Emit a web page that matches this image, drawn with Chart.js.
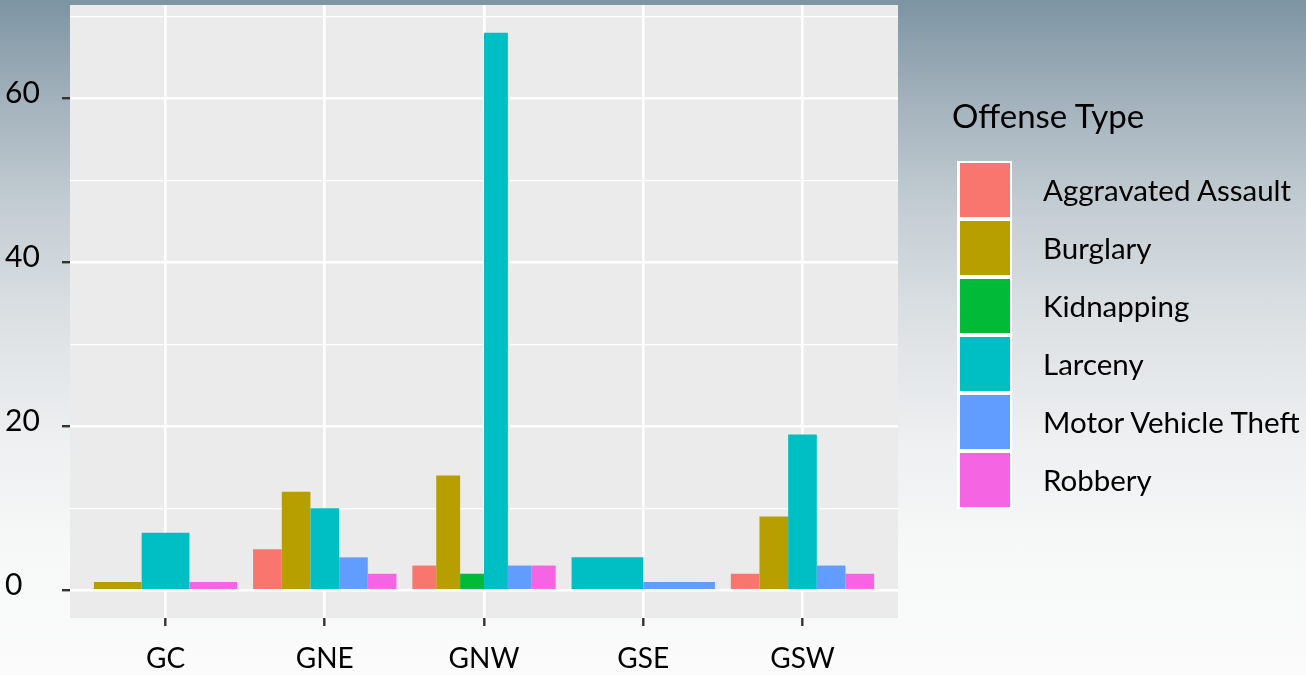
<!DOCTYPE html>
<html>
<head>
<meta charset="utf-8">
<script src="https://cdn.jsdelivr.net/npm/chart.js@4"></script>
<style>
  html, body { margin: 0; padding: 0; }
  body {
    width: 1306px; height: 675px; overflow: hidden; position: relative;
    background: linear-gradient(to bottom, #7d94a3 0%, #a3b2bc 15%, #c6cfd5 32%, #dfe3e6 50%, #eef0f1 66%, #f7f8f8 82%, #fbfbfb 100%);
    font-family: Lato, "Open Sans", sans-serif;
  }
  #wrap { position: absolute; left: 0; top: 0; width: 1306px; height: 675px; }
  #legend { position: absolute; left: 0; top: 0; width: 1306px; height: 675px; pointer-events: none; color: #000; }
  .lg-title { position: absolute; left: 952px; top: 95px; font-size: 33px; line-height: 40px; white-space: nowrap; }
  .lg-key { position: absolute; left: 957px; width: 55px; height: 58px; background: #fff; }
  .lg-key div { position: absolute; left: 3px; top: 2px; width: 50px; height: 54px; }
  .lg-label { position: absolute; left: 1043px; height: 58px; line-height: 58px; font-size: 29.5px; white-space: nowrap; }
</style>
</head>
<body>
<div id="wrap"><canvas id="c"></canvas></div>
<div id="legend"></div>
<script>
// ---- data ----
const districts = ['GC', 'GNE', 'GNW', 'GSE', 'GSW'];
const offenseTypes = ['Aggravated Assault', 'Burglary', 'Kidnapping', 'Larceny', 'Motor Vehicle Theft', 'Robbery'];
const offenseColors = ['#F8766D', '#B79F00', '#00BA38', '#00BFC4', '#619CFF', '#F564E3'];
const aggravatedAssault = [null, 5, 3, null, 2];
const burglary          = [1, 12, 14, null, 9];
const kidnapping        = [null, null, 2, null, null];
const larceny           = [7, 10, 68, 4, 19];
const motorVehicleTheft = [null, 4, 3, 1, 3];
const robbery           = [1, 2, 3, null, 2];
const yTickLabels = [0, 20, 40, 60];
const yMinorTicks = [10, 30, 50, 70];
const legendTitle = 'Offense Type';

// ---- dodge positions (ggplot position_dodge, width 0.9) ----
const seriesValues = [aggravatedAssault, burglary, kidnapping, larceny, motorVehicleTheft, robbery];
const dodgeWidth = 0.9;
const groups = districts.map((d, i) => {
  const present = offenseTypes.map((o, k) => k).filter(k => seriesValues[k][i] != null);
  const w = dodgeWidth / present.length;
  const pos = i + 1;
  return {
    w,
    points: present.map((k, j) => ({ x: pos - dodgeWidth / 2 + w * (j + 0.5), y: seriesValues[k][i], k }))
  };
});
// smallest gap between consecutive bar centres (what Chart.js uses as its ruler)
const allX = Array.from(new Set(groups.flatMap(g => g.points.map(p => p.x)))).sort((a, b) => a - b);
let minGap = 1;
for (let i = 1; i < allX.length; i++) {
  const d = allX[i] - allX[i - 1];
  if (d > 1e-9) minGap = Math.min(minGap, d);
}

const FONT = 'Lato, "Open Sans", sans-serif';
const TXT = '#000000';

const panelBg = {
  id: 'panelBg',
  beforeDraw(chart) {
    const { ctx, chartArea: a } = chart;
    ctx.save();
    ctx.fillStyle = '#EBEBEB';
    ctx.fillRect(a.left, a.top, a.right - a.left, a.bottom - a.top);
    ctx.restore();
  }
};

new Chart(document.getElementById('c'), {
  type: 'bar',
  data: {
    datasets: groups.map((g, i) => ({
      label: districts[i],
      data: g.points.map(p => ({ x: p.x, y: p.y })),
      backgroundColor: g.points.map(p => offenseColors[p.k]),
      borderWidth: 0,
      grouped: false,
      categoryPercentage: 1,
      barPercentage: g.w / minGap
    }))
  },
  options: {
    responsive: true,
    maintainAspectRatio: false,
    animation: false,
    layout: { padding: { left: 5, top: 5, right: 408, bottom: 0 } },
    plugins: { legend: { display: false }, tooltip: { enabled: false } },
    scales: {
      x: {
        type: 'linear', min: 0.4, max: 5.6, offset: false,
        afterBuildTicks: s => { s.ticks = districts.map((d, i) => ({ value: i + 1 })); },
        afterFit: s => { s.height = 57; s.paddingLeft = 0; s.paddingRight = 0; },
        ticks: {
          autoSkip: false, maxRotation: 0, padding: 16,
          color: TXT, font: { family: FONT, size: 28 },
          callback: (v, idx) => districts[idx]
        },
        grid: { offset: false, color: '#ffffff', lineWidth: 2.6, drawTicks: true, tickLength: 8, tickColor: '#333333', tickWidth: 2.4 },
        border: { display: false }
      },
      y: {
        type: 'linear', min: -3.4, max: 71.4,
        afterBuildTicks: s => { s.ticks = [...yTickLabels, ...yMinorTicks].sort((a, b) => a - b).map(v => ({ value: v })); },
        afterFit: s => { s.width = 65; s.paddingTop = 0; s.paddingBottom = 0; },
        ticks: {
          crossAlign: 'far', labelOffset: -5,
          color: TXT, font: { family: FONT, size: 30 },
          callback: v => yTickLabels.includes(v) ? String(v) : ''
        },
        grid: {
          color: '#ffffff',
          lineWidth: c => yTickLabels.includes(c.tick.value) ? 2.4 : 1.2,
          drawTicks: true, tickLength: 8,
          tickColor: c => yTickLabels.includes(c.tick.value) ? '#333333' : 'rgba(0,0,0,0)',
          tickWidth: 2.4
        },
        border: { display: false }
      }
    }
  },
  plugins: [panelBg]
});

// ---- legend (HTML text) ----
const lg = document.getElementById('legend');
const t = document.createElement('div');
t.className = 'lg-title';
t.textContent = legendTitle;
lg.appendChild(t);
offenseTypes.forEach((name, k) => {
  const top = 161 + 58 * k;
  const key = document.createElement('div');
  key.className = 'lg-key';
  key.style.top = top + 'px';
  const sw = document.createElement('div');
  sw.style.background = offenseColors[k];
  key.appendChild(sw);
  lg.appendChild(key);
  const lab = document.createElement('div');
  lab.className = 'lg-label';
  lab.style.top = top + 'px';
  lab.textContent = name;
  lg.appendChild(lab);
});
</script>
</body>
</html>
